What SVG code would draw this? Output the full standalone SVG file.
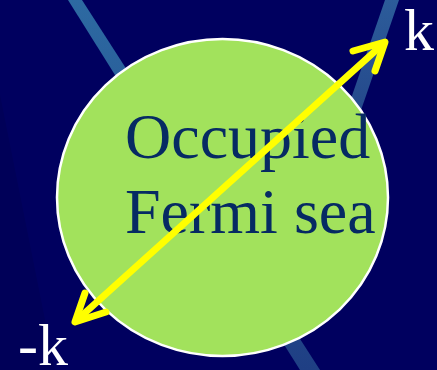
<svg xmlns="http://www.w3.org/2000/svg" width="437" height="370" viewBox="0 0 437 370">
<defs>
<linearGradient id="s1" x1="0" y1="0" x2="0" y2="1"><stop offset="0" stop-color="#2d6aa2"/><stop offset="1" stop-color="#1f3f84"/></linearGradient>
<linearGradient id="s2" x1="0" y1="0" x2="0" y2="1"><stop offset="0" stop-color="#2c5c9a"/><stop offset="1" stop-color="#1f3a80"/></linearGradient>
<style>
.lbl{font-family:"Liberation Serif","Times New Roman",serif;fill:#ffffff}
.txt{font-family:"Liberation Serif","Times New Roman",serif;fill:#062a63;font-size:64px}
.arr{fill:none;stroke:#ffff00;stroke-width:7;stroke-linecap:round;stroke-linejoin:round}
</style>
</defs>
<rect width="437" height="370" fill="#00005f"/>
<polygon points="0,95 0,370 55,370" fill="#000058"/>
<polygon points="68,0 82,0 320,370 300,370" fill="url(#s1)"/>
<polygon points="385,0 399,0 330,200 316,200" fill="url(#s2)"/>
<g id="sea">
<ellipse cx="222.5" cy="197.5" rx="165.5" ry="158.5" fill="#a2e25c" stroke="#ffffff" stroke-width="2.5"/>
<text class="txt" x="125" y="158">Occupied</text>
<text class="txt" x="125" y="233">Fermi sea</text>
</g>
<g id="connectors">
<line class="arr" x1="77" y1="320" x2="383" y2="44"/>
<polyline class="arr" points="353,51 385,42 375,71"/>
<polyline class="arr" points="85,293 75,322 106,312"/>
</g>
<g id="k"><text class="lbl" x="404" y="50" font-size="60">k</text></g>
<g id="minusk"><text class="lbl" x="18" y="365" font-size="60">-k</text></g>
</svg>
